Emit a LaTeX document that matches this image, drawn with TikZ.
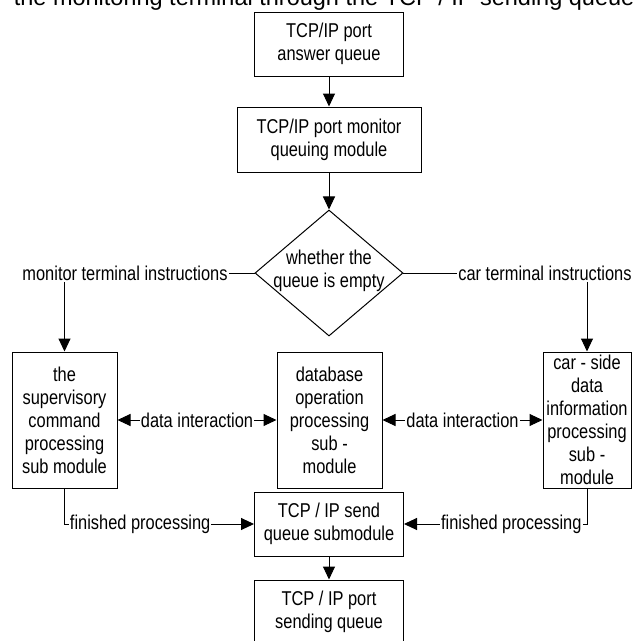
\documentclass[tikz,border=0pt]{standalone}
\usepackage{fontspec}
\setmainfont{Liberation Sans}[FakeStretch=0.82]
\newfontfamily\widefont{Liberation Sans}
\usetikzlibrary{shapes.geometric,arrows.meta}

\begin{document}
\begin{tikzpicture}[x=1pt,y=-1pt,
    font=\fontsize{20}{23}\selectfont,
    line width=1pt,
    box/.style={draw,align=center,inner sep=0pt},
    decision/.style={draw,diamond,minimum width=148pt,minimum height=126pt,inner sep=0pt},
    flow/.style={-{Triangle[length=13pt,width=12pt]}},
    twoway/.style={{Triangle[length=13pt,width=12pt]}-{Triangle[length=13pt,width=12pt]}},
    tag/.style={inner sep=1pt,fill=white}]
    \useasboundingbox (0,0) rectangle (639,641);

    \node[anchor=base west,font=\widefont\fontsize{23.5}{26}\selectfont] (caption) at (10,5) {the monitoring terminal through the TCP / IP sending queue};

    \node[box,minimum width=149pt,minimum height=64pt] (answerq) at (329,44) {TCP/IP port\\answer queue};
    \node[box,minimum width=184pt,minimum height=65pt] (monitorq) at (329,139.5) {TCP/IP port monitor\\queuing module};
    \node[decision,label={[align=center,yshift=2.5pt]center:whether the\\queue is empty}] (empty) at (329,273) {};

    \node[inner sep=1pt] (montext) at (125,273) {monitor terminal instructions};
    \node[inner sep=1pt] (cartext) at (545,273) {car terminal instructions};

    \node[box,minimum width=105pt,minimum height=136pt] (supcmd) at (64.5,420) {the\\supervisory\\command\\processing\\sub module};
    \node[box,minimum width=105pt,minimum height=136pt] (dbop) at (329.5,420) {database\\operation\\processing\\sub -\\module};
    \node[box,minimum width=88pt,minimum height=136pt] (carside) at (587,420) {car - side\\data\\information\\processing\\sub -\\module};

    \node[box,minimum width=149pt,minimum height=64pt] (sendq) at (329,524) {TCP / IP send\\queue submodule};
    \node[box,minimum width=149pt,minimum height=64pt] (portsend) at (329,612) {TCP / IP port\\sending queue};

    \draw[flow] (answerq) -- (monitorq);
    \draw[flow] (monitorq) -- (empty);
    \draw (montext) -- (empty);
    \draw (empty) -- (cartext);
    \draw[flow] (montext.south -| supcmd.north) -- (supcmd);
    \draw[flow] (cartext.south -| carside.north) -- (carside);

    \draw[twoway] (supcmd) -- node[tag] {data interaction} (dbop);
    \draw[twoway] (dbop) -- node[tag] {data interaction} (carside);

    \draw[flow] (supcmd) |- node[tag,pos=0.5,anchor=west,xshift=4pt] {finished processing} (sendq);
    \draw[flow] (carside) |- node[tag,pos=0.5,anchor=east,xshift=-4pt] {finished processing} (sendq);
    \draw[flow] (sendq) -- (portsend);
\end{tikzpicture}
\end{document}
